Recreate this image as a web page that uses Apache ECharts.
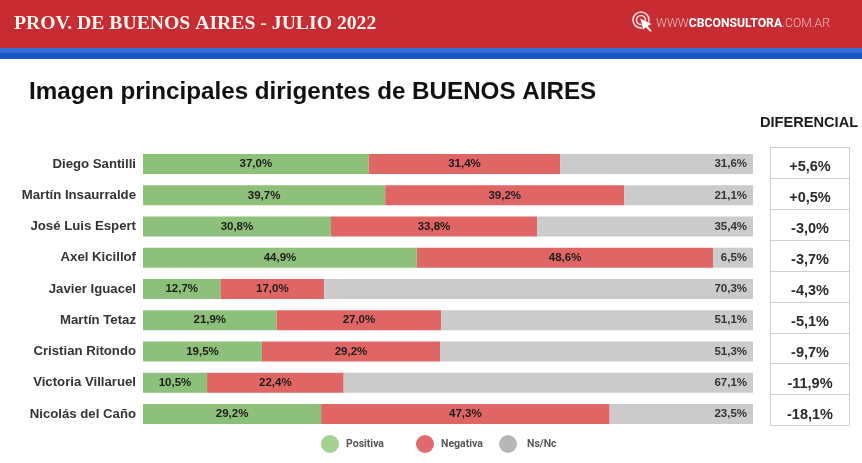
<!DOCTYPE html>
<html><head><meta charset="utf-8">
<style>html,body{margin:0;padding:0;background:#fff}#c{width:862px;height:463px}</style>
<script src="https://cdn.jsdelivr.net/npm/echarts@6/dist/echarts.min.js"></script>
</head><body><div id="c"></div>
<script>
const categories = ["Diego Santilli","Martín Insaurralde","José Luis Espert","Axel Kicillof","Javier Iguacel","Martín Tetaz","Cristian Ritondo","Victoria Villaruel","Nicolás del Caño"];
const positiva = [37.0,39.7,30.8,44.9,12.7,21.9,19.5,10.5,29.2];
const negativa = [31.4,39.2,33.8,48.6,17.0,27.0,29.2,22.4,47.3];
const nsnc = [31.6,21.1,35.4,6.5,70.3,51.1,51.3,67.1,23.5];
const diferencial = ["+5,6%","+0,5%","-3,0%","-3,7%","-4,3%","-5,1%","-9,7%","-11,9%","-18,1%"];

const fmt = p => p.value.toFixed(1).replace('.', ',') + '%';
const lab = (pos, extra) => Object.assign({show:true, position:pos, formatter:fmt, color:'#1c1c1c', textBorderWidth:0, fontFamily:'Liberation Sans', fontWeight:'bold', fontSize:11.5}, extra||{});
const leg = (name, left, color, gap) => ({
  data:[{name, icon:'circle', itemStyle:{color}}], left, top:430, itemWidth:18, itemHeight:18, itemGap:0,
  selectedMode:false, textStyle:{color:'#555', fontFamily:'Roboto', fontWeight:'bold', fontSize:10.5, padding:[0,0,0,gap]}
});
const chart = echarts.init(document.getElementById('c'), null, {renderer:'canvas'});
chart.setOption({
  animation:false,
  backgroundColor:'#fff',
  grid:[
    {left:143, top:148.5, width:610, height:281, containLabel:false},
    {left:770.5, top:147.5, width:79, height:278, show:true, borderColor:'#cfcfcf', borderWidth:1, backgroundColor:'#fff'}
  ],
  xAxis:[
    {gridIndex:0, type:'value', min:0, max:100, show:false},
    {gridIndex:1, type:'value', min:0, max:1, show:false}
  ],
  yAxis:[
    {gridIndex:0, type:'category', inverse:true, data:categories, axisLine:{show:false}, axisTick:{show:false}, axisLabel:{margin:7, color:'#333', fontFamily:'Liberation Sans', fontWeight:'bold', fontSize:13.2}},
    {gridIndex:1, type:'category', inverse:true, data:categories, axisLine:{show:false}, axisTick:{show:false}, axisLabel:{show:false}, splitLine:{show:true, lineStyle:{color:'#cfcfcf', width:1}}}
  ],
  legend:[leg('Positiva',316,'#a3d18e',2), leg('Negativa',411,'#e26a6e',2), leg('Ns/Nc',494,'#b7b7b7',5)],
  series:[
    {name:'Positiva', type:'bar', stack:'a', barWidth:20, data:positiva, itemStyle:{color:'#8dc17b'}, label:lab('inside')},
    {name:'Negativa', type:'bar', stack:'a', barWidth:20, data:negativa, itemStyle:{color:'#e06666'}, label:lab('inside')},
    {name:'Ns/Nc', type:'bar', stack:'a', barWidth:20, data:nsnc, itemStyle:{color:'#cbcbcb'}, label:lab('insideRight',{distance:6,color:'#333'})},
    {name:'Diferencial', type:'scatter', xAxisIndex:1, yAxisIndex:1, symbolSize:0, silent:true, itemStyle:{opacity:1},
     data:diferencial.map((d,i)=>({value:[0.5,i], name:d})),
     label:{show:true, position:'inside', offset:[0,4.5], formatter:p=>p.name, color:'#2a2a2a', opacity:1, textBorderWidth:0, fontFamily:'Liberation Sans', fontWeight:'bold', fontSize:14.5}}
  ],
  graphic:[
    {type:'rect', z:1, shape:{x:0,y:0,width:862,height:48}, style:{fill:'#c62c31'}},
    {type:'rect', z:1, shape:{x:0,y:48,width:862,height:5}, style:{fill:'#2f6fd6'}},
    {type:'rect', z:1, shape:{x:0,y:53,width:862,height:6}, style:{fill:'#1855c8'}},
    {type:'text', z:2, left:14, top:14, style:{text:'PROV. DE BUENOS AIRES - JULIO 2022', fill:'#fdf3ef', font:'bold 19.7px "Liberation Serif"'}},
    {type:'circle', z:2, shape:{cx:641,cy:20,r:8}, style:{fill:'none', stroke:'#f3d9d9', lineWidth:1.6}},
    {type:'circle', z:2, shape:{cx:641,cy:20,r:4.5}, style:{fill:'none', stroke:'#f3d9d9', lineWidth:1.6}},
    {type:'polygon', z:3, shape:{points:[[640,18],[652,24],[648,26],[652,31],[650,32],[646,27.5],[643,30]]}, style:{fill:'#fff', stroke:'#c62c31', lineWidth:0.5}},
    {type:'text', z:2, left:656, top:18, style:{text:'{a|WWW}{b|CBCONSULTORA}{a|.COM.AR}', rich:{
      a:{fill:'#eebcbc', font:'300 12.2px Roboto'},
      b:{fill:'#fff', font:'bold 12.2px Roboto'}}}},
    {type:'text', z:2, left:29, top:80, style:{text:'Imagen principales dirigentes de BUENOS AIRES', fill:'#111', font:'bold 24.2px "Liberation Sans"'}},
    {type:'text', z:2, left:760, top:115, style:{text:'DIFERENCIAL', fill:'#1a1a1a', font:'bold 14.6px "Liberation Sans"'}}
  ]
});
</script></body></html>
